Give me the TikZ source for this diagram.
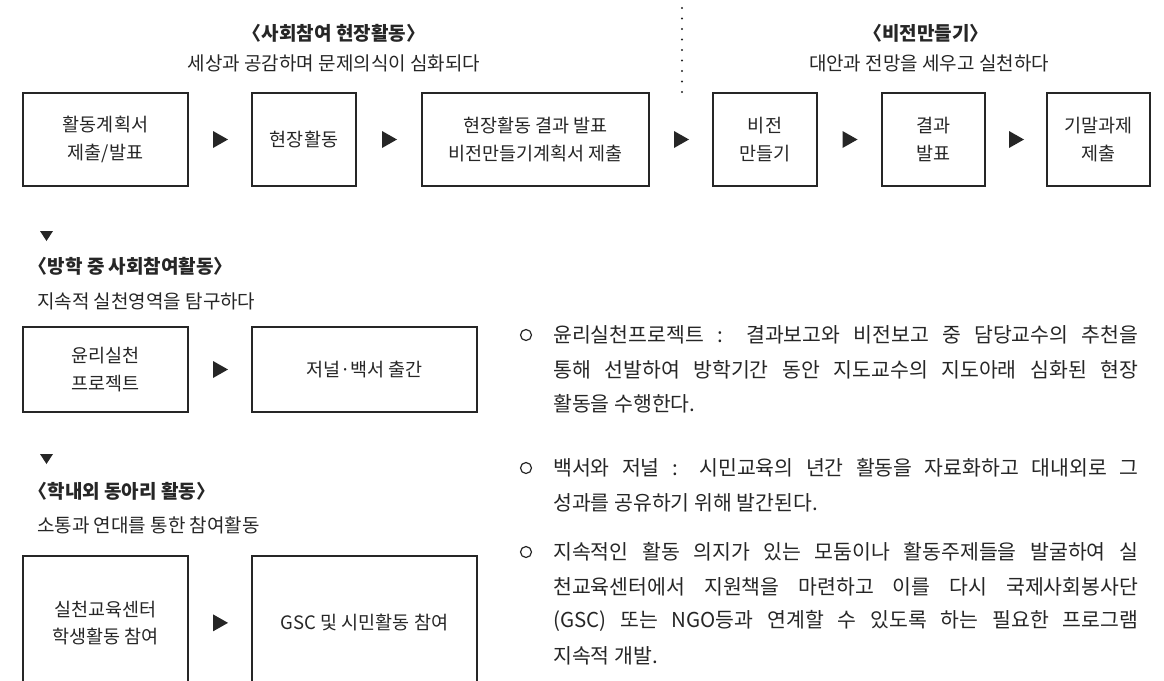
\documentclass[tikz,border=0pt]{standalone}
\usepackage{fontspec}
\setmainfont{Noto Sans CJK KR}
\usetikzlibrary{calc}
\newcommand\opb{\kern-0.5em〈}
\newcommand\clb{〉\kern-0.5em}
\newcommand\jline[1]{\makebox[585pt][s]{#1}}
\begin{document}
\begin{tikzpicture}[x=1pt,y=-1pt,
  box/.style={draw=black!85, line width=1.7pt, inner sep=0pt, align=center,
    font=\fontsize{18.5}{27.5}\selectfont, text=black!85},
  ttl/.style={font=\bfseries\fontsize{19}{22}\selectfont, inner sep=0pt, text=black!85},
  sub/.style={font=\fontsize{19}{22}\selectfont, inner sep=0pt, text=black!85},
  body/.style={font=\fontsize{20.5}{24}\selectfont, inner sep=0pt, anchor=west, text=black!85},
  bul/.style={circle, draw=black!85, line width=1.2pt, minimum size=11pt, inner sep=0pt},
  tri/.style={fill=black!85}]
\useasboundingbox (0,0) rectangle (1164,680);
\clip (0,0) rectangle (1164,680);

% ---- top section titles
\node[ttl] (t1) at (334,33) {\opb 사회참여 현장활동\clb};
\node[sub] (s1) at (334,63) {세상과 공감하며 문제의식이 심화되다};
\node[ttl] (t2) at (926,33) {\opb 비전만들기\clb};
\node[sub] (s2) at (929,63) {대안과 전망을 세우고 실천하다};
\coordinate (dtop) at (682,8);
\coordinate (dbot) at (682,92);
\draw[black!85, line width=2.2pt, line cap=round, dash pattern=on 0pt off 10.5pt] (dtop) -- (dbot);

% ---- top row boxes
\node[box, minimum width=165pt, minimum height=93pt] (b1) at (105.5,139.5) {활동계획서\\제출/발표};
\node[box, minimum width=104pt, minimum height=93pt] (b2) at (304,139.5) {현장활동};
\node[box, minimum width=227pt, minimum height=93pt] (b3) at (535.5,139.5) {현장활동 결과 발표\\비전만들기계획서 제출};
\node[box, minimum width=104pt, minimum height=93pt] (b4) at (765,139.5) {비전\\만들기};
\node[box, minimum width=103pt, minimum height=93pt] (b5) at (933.5,139.5) {결과\\발표};
\node[box, minimum width=103pt, minimum height=93pt] (b6) at (1098.5,139.5) {기말과제\\제출};

\foreach \a/\b/\n in {b1/b2/a1, b2/b3/a2, b3/b4/a3, b4/b5/a4, b5/b6/a5}{
  \coordinate (\n) at ($(\a.east)!0.5!(\b.west)$);
  \fill[tri] (\n) ++(-7,-8.5) -- ++(15,8.5) -- ++(-15,8.5) -- cycle;
}

% ---- section 2
\coordinate (d1) at (46.5,236);
\fill[tri] (d1) ++(-6.5,-5) -- ++(13,0) -- ++(-6.5,10) -- cycle;
\node[ttl, anchor=west] (t3) at (38,266) {\opb 방학 중 사회참여활동\clb};
\node[sub, anchor=west] (s3) at (37,301) {지속적 실천영역을 탐구하다};
\node[box, minimum width=165pt, minimum height=85pt] (c1) at (105.5,369.5) {윤리실천\\프로젝트};
\node[box, minimum width=225pt, minimum height=85pt] (c2) at (364.5,369.5) {저널·백서 출간};
\coordinate (a6) at ($(c1.east)!0.5!(c2.west)$);
\fill[tri] (a6) ++(-7,-8.5) -- ++(15,8.5) -- ++(-15,8.5) -- cycle;

% ---- section 3
\coordinate (d2) at (46.5,459);
\fill[tri] (d2) ++(-6.5,-5) -- ++(13,0) -- ++(-6.5,10) -- cycle;
\node[ttl, anchor=west] (t4) at (38,491) {\opb 학내외 동아리 활동\clb};
\node[sub, anchor=west] (s4) at (37,525) {소통과 연대를 통한 참여활동};
\node[box, anchor=north, minimum width=165pt, minimum height=134pt] (e1) at (105.5,555) {실천교육센터\\학생활동 참여};
\node[box, anchor=north, minimum width=225pt, minimum height=134pt] (e2) at (364.5,555) {GSC 및 시민활동 참여};
\coordinate (a7) at ($(e1.east)!0.5!(e2.west)$);
\fill[tri] (a7) ++(-7,-8.5) -- ++(15,8.5) -- ++(-15,8.5) -- cycle;

% ---- right text
\node[bul] (o1) at (526,335) {};
\node[body] (p1a) at (553,335) {\jline{윤리실천프로젝트 : 결과보고와 비전보고 중 담당교수의 추천을}};
\node[body] (p1b) at (553,369.5) {\jline{통해 선발하여 방학기간 동안 지도교수의 지도아래 심화된 현장}};
\node[body] (p1c) at (553,404) {활동을 수행한다.};

\node[bul] (o2) at (526,468) {};
\node[body] (p2a) at (553,468) {\jline{백서와 저널 : 시민교육의 년간 활동을 자료화하고 대내외로 그}};
\node[body] (p2b) at (553,502.5) {성과를 공유하기 위해 발간된다.};

\node[bul] (o3) at (526,552) {};
\node[body] (p3a) at (553,552) {\jline{지속적인 활동 의지가 있는 모둠이나 활동주제들을 발굴하여 실}};
\node[body] (p3b) at (553,586.5) {\jline{천교육센터에서 지원책을 마련하고 이를 다시 국제사회봉사단}};
\node[body] (p3c) at (553,621) {\jline{(GSC) 또는 NGO등과 연계할 수 있도록 하는 필요한 프로그램}};
\node[body] (p3d) at (553,655.5) {지속적 개발.};
\end{tikzpicture}
\end{document}
